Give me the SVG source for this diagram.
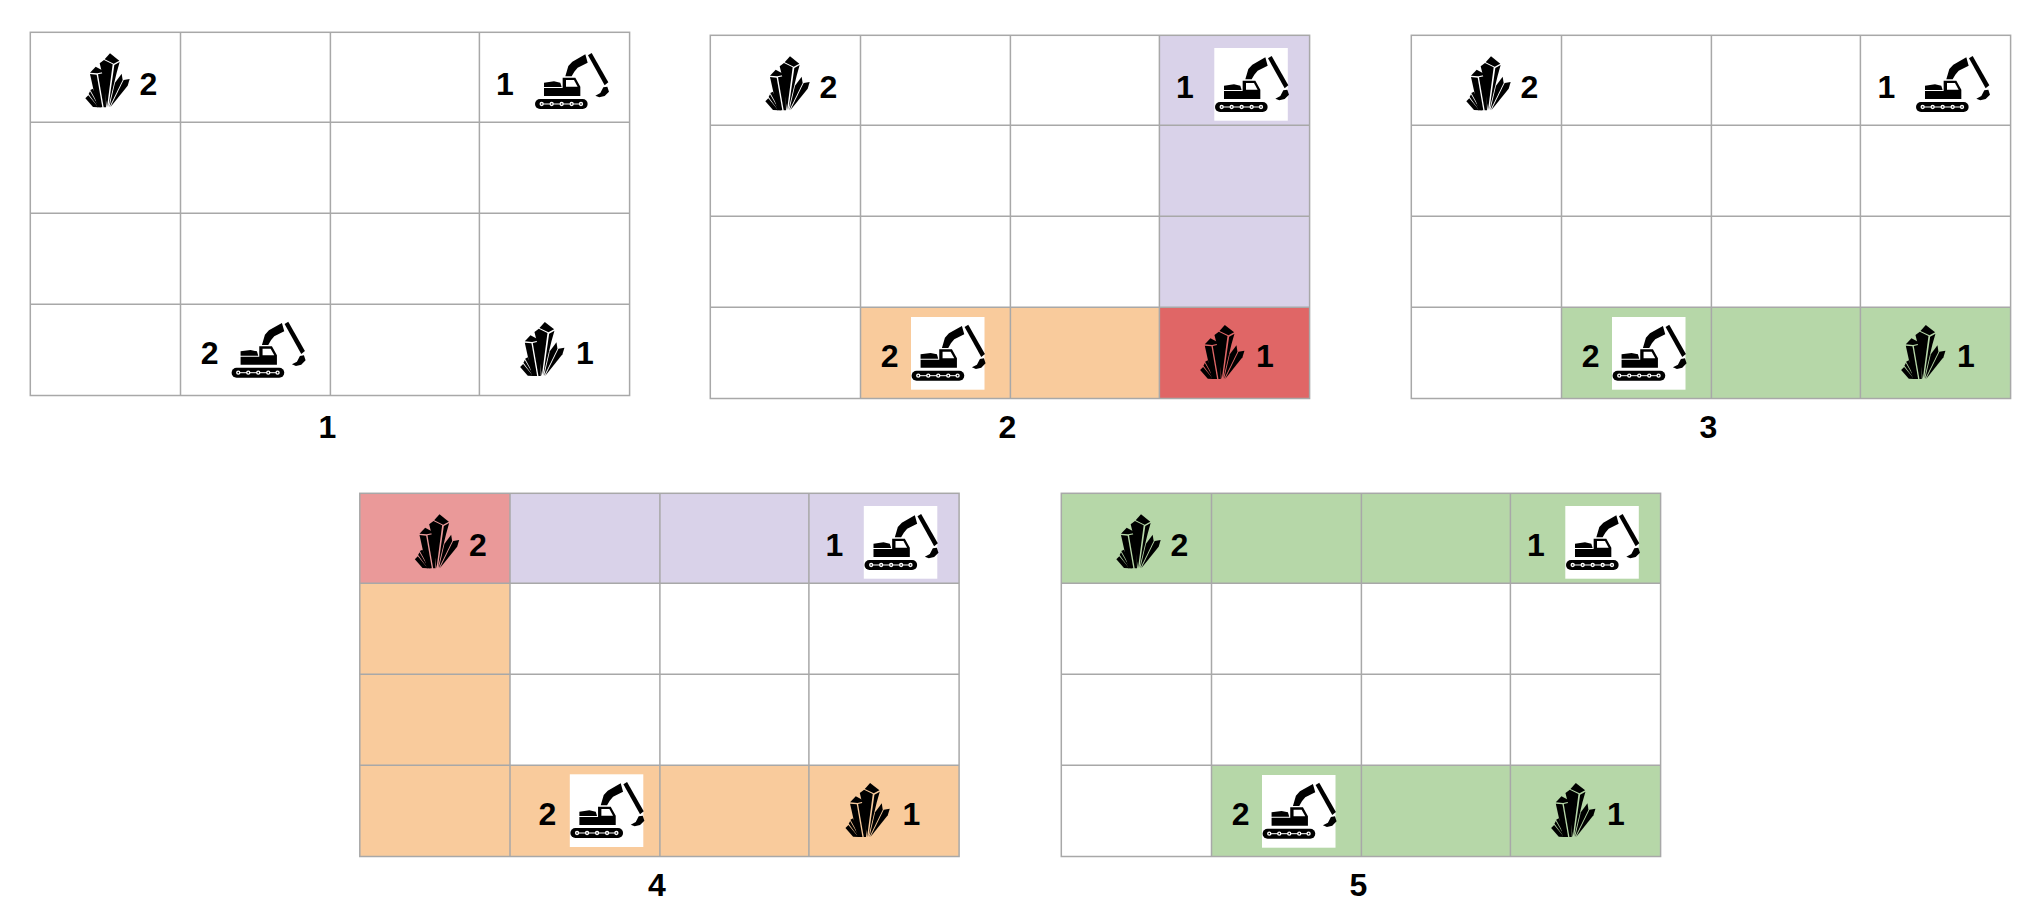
<svg xmlns="http://www.w3.org/2000/svg" width="2034" height="913" viewBox="0 0 2034 913">
<style>
text{font-family:"Liberation Sans",Arial,sans-serif;font-weight:700;font-size:32px;text-anchor:middle;fill:#000}
.g{fill:none;stroke:#a8a8a8;stroke-width:1.5}
.p{fill:#d9d2e9}.o{fill:#f9cb9c}.r{fill:#e06666}.l{fill:#ea9999}.v{fill:#b6d7a8}.w{fill:#fff}
</style>
<defs>
<g id="grid" class="g">
<rect x="30.3" y="32.3" width="599.3" height="363.2"/>
<path d="M180.5 32.3V395.5M330.4 32.3V395.5M479.4 32.3V395.5M30.3 122.3H629.6M30.3 213.3H629.6M30.3 304.3H629.6"/>
</g>
<g id="crystal" transform="translate(60,30) scale(.3333)">
<path d="M134 88 150 70 178 92 161 101Z"/>
<path d="M119 100 132 90 158 103 141 232 127 132Z"/>
<path d="M179 96 163 105 145 232 170 128Z"/>
<path d="M90 128 107 110 135 125 112 130Z"/>
<path d="M90 132 110 134 127 232 112 232Z"/>
<path d="M114 133 136 128 138 232 131 232Z"/>
<path d="M165 158 185 131 188 150 148 232Z"/>
<path d="M191 150 209 147 203 167 151 232Z"/>
<path d="M76 205 85 196 115 232 99 231Z"/>
<path d="M86 192 90 184 118 232 113 230Z"/>
<path d="M91 180 99 176 123 232 119 232Z"/>
</g>
<g id="excavator" transform="translate(480,30) scale(.3333)">
<rect x="165" y="207" width="158" height="30" rx="15"/>
<path d="M185 222H303" stroke="#fff" stroke-width="3"/>
<g fill="#fff"><circle cx="185" cy="222" r="6.5"/><circle cx="215" cy="222" r="6.5"/><circle cx="245" cy="222" r="6.5"/><circle cx="275" cy="222" r="6.5"/><circle cx="303" cy="222" r="6.5"/></g>
<g fill="#000"><circle cx="185" cy="222" r="2.5"/><circle cx="215" cy="222" r="2.5"/><circle cx="245" cy="222" r="2.5"/><circle cx="275" cy="222" r="2.5"/><circle cx="303" cy="222" r="2.5"/></g>
<path d="M192 174H248V143H286L301 170V198H192Z"/>
<path d="M192 158 222 154 241 158 245 171H192Z"/>
<path class="w" d="M258 150H282L293 170H258Z"/>
<path d="M256 139 265 108 277 95 316 73 323 98 293 113 283 125 275 139Z"/>
<path d="M324 76 335 69 385 157 374 166Z"/>
<path d="M382 170 387 185 374 198 358 202 346 197 361 189 370 172Z"/>
</g>
</defs>
<rect class="w" width="2034" height="913"/>

<g id="panel-1">
<use href="#grid"/>
<use href="#crystal"/><use href="#excavator"/>
<use href="#excavator" transform="translate(-303.4,268.7)"/>
<use href="#crystal" transform="translate(434.8,268.7)"/>
<text x="148.4" y="95">2</text><text x="505" y="95">1</text><text x="209.6" y="363.7">2</text><text x="585" y="363.7">1</text>
<text x="327.4" y="438.3">1</text>
</g>

<g id="panel-2" transform="translate(680,3)">
<rect class="p" x="479.4" y="32.3" width="150.2" height="272"/>
<rect class="o" x="180.5" y="304.3" width="298.9" height="91.2"/>
<rect class="r" x="479.4" y="304.3" width="150.2" height="91.2"/>
<rect class="w" x="534.3" y="45" width="73.5" height="72.7"/>
<rect class="w" x="231" y="314" width="73.5" height="72.7"/>
<use href="#grid"/>
<use href="#crystal"/><use href="#excavator"/>
<use href="#excavator" transform="translate(-303.4,268.7)"/>
<use href="#crystal" transform="translate(434.8,268.7)"/>
<text x="148.4" y="95">2</text><text x="505" y="95">1</text><text x="209.6" y="363.7">2</text><text x="585" y="363.7">1</text>
<text x="327.4" y="435.3">2</text>
</g>

<g id="panel-3" transform="translate(1381,3)">
<rect class="v" x="180.5" y="304.3" width="449.1" height="91.2"/>
<rect class="w" x="231" y="314" width="73.5" height="72.7"/>
<use href="#grid"/>
<use href="#crystal"/><use href="#excavator"/>
<use href="#excavator" transform="translate(-303.4,268.7)"/>
<use href="#crystal" transform="translate(434.8,268.7)"/>
<text x="148.4" y="95">2</text><text x="505.5" y="95">1</text><text x="209.6" y="363.7">2</text><text x="585" y="363.7">1</text>
<text x="327.4" y="435.3">3</text>
</g>

<g id="panel-4" transform="translate(329.5,461)">
<rect class="l" x="30.3" y="32.3" width="150.2" height="90"/>
<rect class="p" x="180.5" y="32.3" width="449.1" height="90"/>
<rect class="o" x="30.3" y="122.3" width="150.2" height="273.2"/>
<rect class="o" x="180.5" y="304.3" width="449.1" height="91.2"/>
<rect class="w" x="534.3" y="45" width="73.5" height="72.7"/>
<rect class="w" x="240.3" y="313.3" width="73.5" height="72.7"/>
<use href="#grid"/>
<use href="#crystal"/><use href="#excavator"/>
<use href="#excavator" transform="translate(-294.1,268)"/>
<use href="#crystal" transform="translate(430.6,268.7)"/>
<text x="148.4" y="95">2</text><text x="505" y="95">1</text><text x="217.8" y="363.7">2</text><text x="582" y="363.7">1</text>
<text x="327.4" y="434.7">4</text>
</g>

<g id="panel-5" transform="translate(1031,461)">
<rect class="v" x="30.3" y="32.3" width="599.3" height="90"/>
<rect class="v" x="180.5" y="304.3" width="449.1" height="91.2"/>
<rect class="w" x="534.3" y="45" width="73.5" height="72.7"/>
<rect class="w" x="231" y="314" width="73.5" height="72.7"/>
<use href="#grid"/>
<use href="#crystal"/><use href="#excavator"/>
<use href="#excavator" transform="translate(-303.4,268.7)"/>
<use href="#crystal" transform="translate(434.8,268.7)"/>
<text x="148.4" y="95">2</text><text x="505" y="95">1</text><text x="209.6" y="363.7">2</text><text x="585" y="363.7">1</text>
<text x="327.4" y="434.7">5</text>
</g>
</svg>
